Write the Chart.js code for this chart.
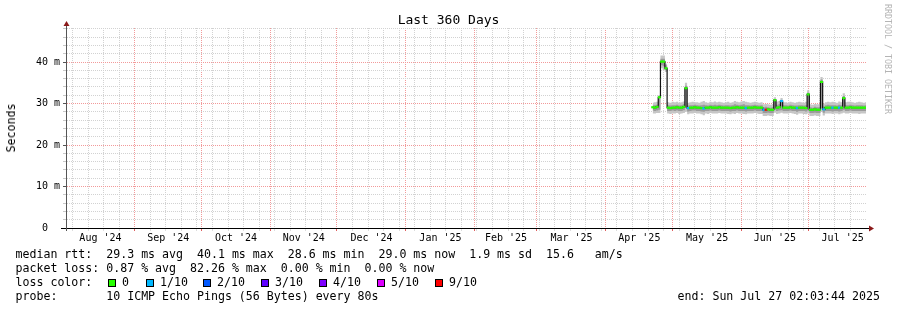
<!DOCTYPE html>
<html lang="en">
<head>
<meta charset="UTF-8">
<title>Last 360 Days</title>
<script src="https://cdn.jsdelivr.net/npm/chart.js"></script>
<style>
  body { margin: 0; background: #ffffff; }
  #wrap { position: relative; width: 897px; height: 310px; overflow: hidden; font-family: 'DejaVu Sans Mono', monospace; color: #000; }
  #chart { position: absolute; left: 0; top: 0; }
  .txt { position: absolute; white-space: pre; font-size: 11.6px; line-height: 14px; }
  #title { position: absolute; left: 0; width: 897px; top: 11.5px; text-align: center; font-size: 13px; line-height: 16px; }
  #ylabel { position: absolute; left: 11px; top: 127.5px; transform: translate(-50%, -50%) rotate(-90deg); font-size: 11.6px; line-height: 14px; white-space: nowrap; }
  #mark { position: absolute; left: 883px; top: 4px; writing-mode: vertical-rl; font-size: 8.3px; line-height: 10px; color: #b4b4b4; white-space: nowrap; }
  .box { position: absolute; top: 279px; width: 6px; height: 6px; border: 1px solid #000; }
</style>
</head>
<body>
<div id="wrap">
  <canvas id="chart" width="897" height="310"></canvas>
  <div id="title">Last 360 Days</div>
  <div id="ylabel">Seconds</div>
  <div id="mark">RRDTOOL / TOBI OETIKER</div>
  <div class="txt" style="left:15.5px; top:246.7px">median rtt:  29.3 ms avg  40.1 ms max  28.6 ms min  29.0 ms now  1.9 ms sd  15.6   am/s</div>
  <div class="txt" style="left:15.5px; top:260.8px">packet loss: 0.87 % avg  82.26 % max  0.00 % min  0.00 % now</div>
  <div class="txt" style="left:15.5px; top:274.9px">loss color:</div>
  <div id="legend"></div>
  <div class="txt" style="left:15.5px; top:288.6px">probe:       10 ICMP Echo Pings (56 Bytes) every 80s</div>
  <div class="txt" style="left:677.5px; top:288.6px">end: Sun Jul 27 02:03:44 2025</div>
</div>
<script>
  // days counted from the graph start (Aug 1 2024 02:03), one consolidated sample per day
  const firstDay = 264;
  const startShift = 2.06 / 24;

  const median = [
    29.1, 29.0, 29.2, 31.5, 40.1, 40.1, 38.5, 29.0, 28.9, 29.0,
    29.0, 29.1, 29.0, 29.0, 29.2, 33.7, 28.9, 29.0, 29.0, 29.1,
    29.0, 29.0, 28.9, 28.8, 29.0, 29.0, 29.1, 29.0, 29.0, 29.0,
    29.1, 29.0, 29.0, 29.0, 29.0, 28.9, 29.0, 29.0, 29.1, 29.0,
    29.0, 29.0, 28.9, 29.0, 29.0, 29.0, 29.1, 29.0, 29.0, 29.0,
    28.5, 28.5, 28.6, 28.5, 28.5, 30.8, 29.0, 29.1, 30.6, 29.0,
    29.0, 29.0, 29.1, 29.0, 29.0, 28.9, 29.0, 29.0, 29.0, 28.9,
    32.2, 28.5, 28.5, 28.6, 28.5, 28.5, 35.2, 28.6, 29.0, 29.0,
    29.0, 29.0, 29.0, 29.0, 29.0, 29.0, 31.3, 29.0, 29.0, 29.1,
    29.0, 29.0, 29.0, 29.0, 29.0, 29.0, 29.0
  ];
  const outerHi = [
    30.2, 30.3, 30.4, 32.0, 41.6, 41.6, 39.6, 30.3, 30.2, 30.4,
    30.3, 30.4, 30.2, 30.3, 30.5, 35.0, 30.2, 30.3, 30.4, 30.3,
    30.3, 30.2, 30.4, 30.6, 30.3, 30.2, 30.4, 30.3, 30.5, 30.3,
    30.4, 30.3, 30.2, 30.3, 30.4, 30.2, 30.3, 30.6, 30.4, 30.3,
    30.5, 30.6, 30.4, 30.3, 30.2, 30.3, 30.4, 30.3, 30.2, 30.3,
    29.8, 29.9, 29.8, 29.7, 29.8, 31.5, 30.5, 30.6, 31.3, 30.3,
    30.3, 30.2, 30.4, 30.3, 30.2, 30.3, 30.4, 30.3, 30.2, 30.4,
    33.2, 29.8, 29.7, 29.9, 29.8, 29.8, 36.4, 30.0, 30.3, 30.4,
    30.3, 30.4, 30.3, 30.2, 30.5, 30.3, 32.5, 30.3, 30.4, 30.4,
    30.3, 30.2, 30.3, 30.4, 30.3, 30.2, 30.3
  ];
  const innerHi = [
    29.6, 29.6, 29.7, 31.7, 40.8, 40.8, 39.2, 29.6, 29.5, 29.6,
    29.6, 29.7, 29.5, 29.6, 29.8, 34.3, 29.5, 29.6, 29.6, 29.7,
    29.6, 29.5, 29.6, 29.7, 29.6, 29.5, 29.7, 29.6, 29.7, 29.6,
    29.7, 29.6, 29.5, 29.6, 29.6, 29.5, 29.6, 29.8, 29.7, 29.6,
    29.7, 29.8, 29.6, 29.6, 29.5, 29.6, 29.7, 29.6, 29.5, 29.6,
    29.1, 29.2, 29.1, 29.0, 29.1, 31.0, 29.7, 29.8, 30.8, 29.6,
    29.6, 29.5, 29.7, 29.6, 29.5, 29.5, 29.6, 29.6, 29.5, 29.6,
    32.6, 29.1, 29.0, 29.2, 29.1, 29.1, 35.8, 29.3, 29.6, 29.7,
    29.6, 29.6, 29.6, 29.5, 29.7, 29.6, 31.8, 29.6, 29.6, 29.7,
    29.6, 29.5, 29.6, 29.6, 29.6, 29.5, 29.6
  ];
  const innerLo = [
    28.3, 28.2, 28.3, 28.5, 39.2, 39.0, 38.0, 28.2, 28.2, 28.3,
    28.2, 28.3, 28.2, 28.2, 28.4, 29.0, 28.1, 28.2, 28.3, 28.3,
    28.2, 28.2, 28.1, 28.0, 28.2, 28.2, 28.3, 28.2, 28.2, 28.2,
    28.3, 28.2, 28.2, 28.2, 28.2, 28.1, 28.2, 28.2, 28.3, 28.2,
    28.2, 28.2, 28.1, 28.2, 28.2, 28.2, 28.3, 28.2, 28.2, 28.2,
    27.7, 27.7, 27.8, 27.7, 27.7, 28.5, 28.2, 28.3, 28.4, 28.2,
    28.2, 28.2, 28.3, 28.2, 28.2, 28.0, 28.2, 28.2, 28.2, 28.1,
    28.3, 27.7, 27.7, 27.8, 27.7, 27.7, 28.8, 27.8, 28.2, 28.2,
    28.2, 28.1, 28.2, 28.2, 28.1, 28.2, 28.5, 28.2, 28.2, 28.3,
    28.2, 28.2, 28.2, 28.2, 28.2, 28.2, 28.2
  ];
  const outerLo = [
    27.6, 27.6, 27.7, 27.7, 38.5, 38.0, 37.6, 27.6, 27.5, 27.6,
    27.6, 27.7, 27.5, 27.6, 27.7, 28.0, 27.4, 27.6, 27.6, 27.7,
    27.6, 27.6, 27.4, 27.2, 27.6, 27.5, 27.7, 27.6, 27.6, 27.6,
    27.7, 27.6, 27.6, 27.6, 27.5, 27.4, 27.6, 27.5, 27.7, 27.6,
    27.6, 27.5, 27.4, 27.6, 27.6, 27.6, 27.7, 27.6, 27.5, 27.5,
    27.0, 27.0, 27.1, 27.0, 27.0, 27.8, 27.5, 27.6, 27.8, 27.6,
    27.6, 27.6, 27.7, 27.6, 27.5, 27.3, 27.6, 27.6, 27.5, 27.4,
    27.6, 27.0, 27.0, 27.1, 27.0, 27.0, 28.0, 27.1, 27.6, 27.6,
    27.6, 27.5, 27.6, 27.6, 27.4, 27.6, 27.8, 27.6, 27.6, 27.7,
    27.6, 27.6, 27.6, 27.5, 27.6, 27.6, 27.6
  ];
  // lost pings out of 10 for each sample
  const loss = [
    0, 0, 0, 0, 0, 0, 0, 0, 0, 0,
    0, 0, 0, 0, 0, 0, 1, 0, 0, 0,
    0, 0, 0, 1, 0, 0, 0, 0, 0, 0,
    0, 0, 0, 0, 0, 0, 0, 0, 0, 0,
    0, 0, 1, 0, 0, 0, 0, 0, 0, 0,
    1, 9, 0, 0, 0, 0, 0, 0, 1, 0,
    0, 0, 0, 0, 0, 1, 0, 0, 0, 0,
    0, 0, 0, 0, 0, 0, 0, 1, 0, 0,
    0, 1, 0, 0, 1, 0, 0, 0, 0, 0,
    0, 0, 0, 0, 0, 0, 0
  ];

  const lossLevels = ['0', '1/10', '2/10', '3/10', '4/10', '5/10', '9/10'];
  const lossValues = [0, 1, 2, 3, 4, 5, 9];
  const lossColors = ['#26ff00', '#00b8ff', '#0059ff', '#5e00ff', '#7e00ff', '#dd00ff', '#ff0000'];

  const monthStarts = [31, 61, 92, 122, 153, 184, 212, 243, 273, 304, 334];
  const monthMids = [15.5, 46, 76.5, 107, 137.5, 168.5, 198, 227.5, 258, 288.5, 319, 349.5];
  const monthLabels = ["Aug '24", "Sep '24", "Oct '24", "Nov '24", "Dec '24", "Jan '25",
                       "Feb '25", "Mar '25", "Apr '25", "May '25", "Jun '25", "Jul '25"];
  const firstSunday = 3;
  const yMajor = [0, 10, 20, 30, 40];

  // loss colour legend
  const legendBoxX = [108, 146, 203, 261, 319, 377, 435];
  const legend = document.getElementById('legend');
  lossLevels.forEach((lvl, i) => {
    const b = document.createElement('div');
    b.className = 'box';
    b.style.left = legendBoxX[i] + 'px';
    b.style.background = lossColors[i];
    legend.appendChild(b);
    const t = document.createElement('div');
    t.className = 'txt';
    t.style.left = (legendBoxX[i] + 14) + 'px';
    t.style.top = '274.9px';
    t.textContent = lvl;
    legend.appendChild(t);
  });

  const xy = arr => arr.map((v, i) => ({ x: firstDay + i, y: v }));
  const colorOf = l => lossColors[lossValues.indexOf(l)];

  // x ticks: weekly minor grid, monthly major grid, labels in mid month
  const xTicks = [];
  for (let d = firstSunday; d < 360; d += 7) {
    if (!monthStarts.includes(d)) xTicks.push({ value: d - startShift, kind: 'week' });
  }
  monthStarts.forEach(d => xTicks.push({ value: d - startShift, kind: 'month' }));
  monthMids.forEach((d, i) => xTicks.push({ value: d, kind: 'label', text: monthLabels[i] }));
  xTicks.sort((a, b) => a.value - b.value);

  const yTicks = [];
  for (let v = 0; v <= 48; v += 2) yTicks.push({ value: v });

  const tickFont = { family: "'DejaVu Sans Mono', monospace", size: 10 };

  const axisArrows = {
    id: 'axisArrows',
    afterDraw(chart) {
      const { ctx, chartArea: a } = chart;
      ctx.save();
      ctx.lineWidth = 1;
      ctx.strokeStyle = '#000';
      ctx.beginPath();
      ctx.moveTo(a.left - 5, a.bottom + 0.5);
      ctx.lineTo(a.right + 4, a.bottom + 0.5);
      ctx.stroke();
      ctx.strokeStyle = '#555';
      ctx.beginPath();
      ctx.moveTo(a.left + 0.5, a.bottom + 3);
      ctx.lineTo(a.left + 0.5, a.top - 3);
      ctx.stroke();
      ctx.fillStyle = '#8b1a1a';
      ctx.beginPath();
      ctx.moveTo(a.left - 2.5, a.top - 2);
      ctx.lineTo(a.left + 3.5, a.top - 2);
      ctx.lineTo(a.left + 0.5, a.top - 7);
      ctx.closePath();
      ctx.fill();
      ctx.beginPath();
      ctx.moveTo(a.right + 3, a.bottom - 2.5);
      ctx.lineTo(a.right + 3, a.bottom + 3.5);
      ctx.lineTo(a.right + 8, a.bottom + 0.5);
      ctx.closePath();
      ctx.fill();
      ctx.restore();
    }
  };

  const noLine = { borderColor: 'transparent', borderWidth: 0, pointRadius: 0, stepped: 'middle' };

  new Chart(document.getElementById('chart'), {
    type: 'line',
    data: {
      datasets: [
        {
          label: 'median',
          data: xy(median),
          showLine: false,
          pointStyle: 'line',
          pointRadius: 1.45,
          pointBorderWidth: 2.2,
          pointBorderColor: loss.map(colorOf),
          order: 0
        },
        {
          label: 'median step',
          data: xy(median),
          stepped: 'middle',
          borderColor: '#111111',
          borderWidth: 1.2,
          pointRadius: 0,
          order: 1
        },
        Object.assign({ label: 'smoke inner', data: xy(innerHi), fill: 3, backgroundColor: '#9a9a9a', order: 2 }, noLine),
        Object.assign({ label: 'inner lo', data: xy(innerLo), fill: false, order: 3 }, noLine),
        Object.assign({ label: 'smoke outer', data: xy(outerHi), fill: 5, backgroundColor: '#c6c6c6', order: 4 }, noLine),
        Object.assign({ label: 'outer lo', data: xy(outerLo), fill: false, order: 5 }, noLine)
      ]
    },
    options: {
      responsive: false,
      animation: false,
      devicePixelRatio: 1,
      events: [],
      layout: { padding: { left: 0, right: 31, top: 28, bottom: 0 } },
      plugins: { legend: { display: false }, tooltip: { enabled: false }, title: { display: false } },
      scales: {
        x: {
          type: 'linear',
          min: 0,
          max: 360,
          afterBuildTicks: s => { s.ticks = xTicks.map(t => Object.assign({}, t)); },
          afterFit: s => { s.height = 82; },
          ticks: {
            autoSkip: false,
            maxRotation: 0,
            minRotation: 0,
            padding: 1,
            color: '#000',
            font: tickFont,
            callback: (v, i, ticks) => ticks[i].text || ''
          },
          grid: {
            lineWidth: 1,
            tickLength: 3,
            color: c => c.tick.kind === 'month' ? '#f29a9a' : (c.tick.kind === 'week' ? '#d2d2d2' : 'transparent'),
            tickColor: c => c.tick.kind === 'month' ? '#e06060' : (c.tick.kind === 'week' ? '#dddddd' : 'transparent')
          },
          border: { display: true, color: '#000', width: 1, dash: [1, 1] }
        },
        y: {
          type: 'linear',
          min: 0,
          max: 48.2,
          afterBuildTicks: s => { s.ticks = yTicks.map(t => Object.assign({}, t)); },
          afterFit: s => { s.width = 66; },
          ticks: {
            autoSkip: false,
            padding: 3,
            color: '#000',
            font: tickFont,
            callback: v => yMajor.includes(v) ? (v === 0 ? '0  ' : v + ' m') : ''
          },
          grid: {
            lineWidth: 1,
            tickLength: 3,
            color: c => yMajor.includes(c.tick.value) ? '#f29a9a' : '#d2d2d2',
            tickColor: c => yMajor.includes(c.tick.value) ? '#555' : '#c8c8c8'
          },
          border: { display: true, color: '#555', width: 1, dash: [1, 1] }
        }
      }
    },
    plugins: [axisArrows]
  });
</script>
</body>
</html>
